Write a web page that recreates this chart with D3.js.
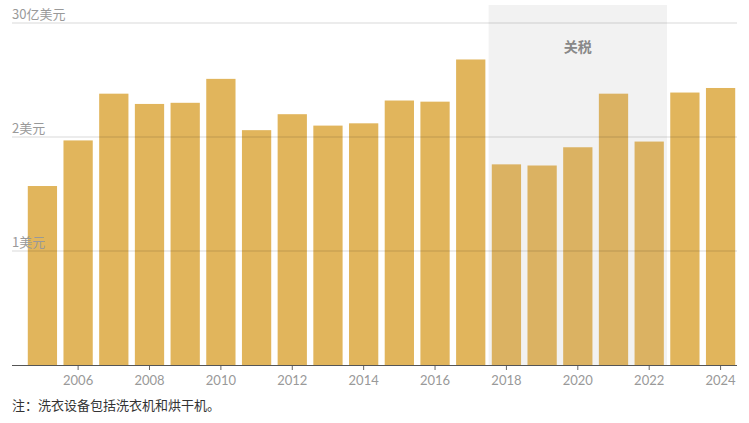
<!DOCTYPE html>
<html><head><meta charset="utf-8">
<script src="https://cdn.jsdelivr.net/npm/d3@7"></script>
<style>body{margin:0;background:#fff;font-family:"Noto Sans CJK SC","Noto Sans",sans-serif}</style>
</head><body><svg id="c" width="749" height="423"></svg>
<script>
const years=[2005,2006,2007,2008,2009,2010,2011,2012,2013,2014,2015,2016,2017,2018,2019,2020,2021,2022,2023,2024];
const values=[1.57,1.97,2.38,2.29,2.30,2.51,2.06,2.20,2.10,2.12,2.32,2.31,2.68,1.76,1.75,1.91,2.38,1.96,2.39,2.43];
const yTicks=[1,2,3];
const yTickLabels=["1美元","2美元","30亿美元"];
const tariffYears=[2018,2022];
const svg=d3.select("#c");
const x=d3.scaleBand().domain(years).range([26,737]).paddingInner(0.18).paddingOuter(0.05);
const y=d3.scaleLinear().domain([0,3]).range([365,23]);
const step=x.step();
svg.append("rect").attr("x",x(tariffYears[0])-step*0.09).attr("width",x(tariffYears[1])+x.bandwidth()+step*0.09-(x(tariffYears[0])-step*0.09))
 .attr("y",5).attr("height",360).attr("fill","#f2f2f2");
svg.append("text").attr("x",(x(2019)+x(2021)+x.bandwidth())/2).attr("y",52).attr("text-anchor","middle").attr("font-size",14).attr("font-weight","bold").attr("fill","#888").text("关税");
svg.selectAll(".b").data(years).join("rect").attr("x",d=>x(d)).attr("width",x.bandwidth())
 .attr("y",(d,i)=>y(values[i])).attr("height",(d,i)=>365-y(values[i]))
 .attr("fill",d=>d>=tariffYears[0]&&d<=tariffYears[1]?"#dbb262":"#e1b55c");
yTicks.forEach((t,i)=>{
 svg.append("line").attr("x1",12).attr("x2",737).attr("y1",y(t)).attr("y2",y(t)).attr("stroke","#000").attr("stroke-opacity",0.15);
 svg.append("text").attr("x",12).attr("y",y(t)-4).attr("font-size",13).attr("fill","#999").text(yTickLabels[i]);
});
const ax=svg.append("g").attr("transform","translate(0,365)").call(d3.axisBottom(x).tickValues(years.filter(d=>d%2==0)).tickSize(5).tickSizeOuter(0));
ax.select(".domain").remove();
ax.selectAll("line").attr("stroke","#666");
ax.selectAll("text").attr("font-size",13).attr("fill","#999").attr("dy","0.9em").attr("font-family","Lato,sans-serif");
svg.append("line").attr("x1",12).attr("x2",737).attr("y1",365.5).attr("y2",365.5).attr("stroke","#555");
svg.append("text").attr("x",12).attr("y",410).attr("font-size",13).attr("fill","#333").text("注：洗衣设备包括洗衣机和烘干机。");
</script></body></html>
